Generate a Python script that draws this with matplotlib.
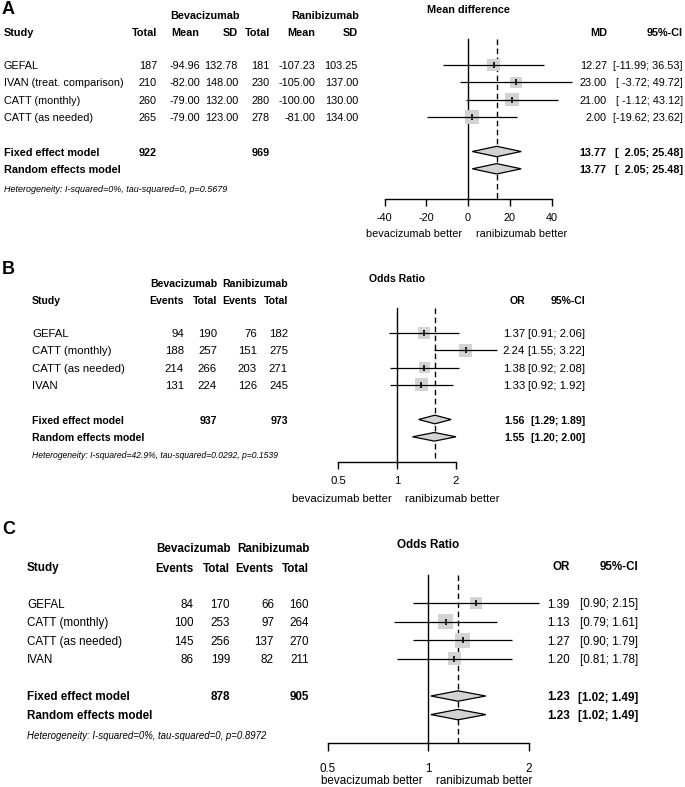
import numpy as np
import matplotlib
matplotlib.use("Agg")
import matplotlib.pyplot as plt
from matplotlib import transforms
from matplotlib.patches import Polygon
from matplotlib.ticker import NullLocator, FixedLocator, FixedFormatter

plt.rcParams['font.family'] = ['Liberation Sans', 'DejaVu Sans']

# ---------------- DATA ----------------
# Panel A: mean difference
a_studies = ["GEFAL", "IVAN (treat. comparison)", "CATT (monthly)", "CATT (as needed)"]
a_bev_total = [187, 210, 260, 265]
a_bev_mean = [-94.96, -82.00, -79.00, -79.00]
a_bev_sd = [132.78, 148.00, 132.00, 123.00]
a_ran_total = [181, 230, 280, 278]
a_ran_mean = [-107.23, -105.00, -100.00, -81.00]
a_ran_sd = [103.25, 137.00, 130.00, 134.00]
a_est = [12.27, 23.00, 21.00, 2.00]
a_lo = [-11.99, -3.72, -1.12, -19.62]
a_hi = [36.53, 49.72, 43.12, 23.62]
a_fixed = [13.77, 2.05, 25.48]
a_random = [13.77, 2.05, 25.48]
a_totals = [922, 969]
a_het = "Heterogeneity: I-squared=0%, tau-squared=0, p=0.5679"
a_ticks = [-40, -20, 0, 20, 40]
a_ticklabels = ["-40", "-20", "0", "20", "40"]

# Panel B: odds ratio
b_studies = ["GEFAL", "CATT (monthly)", "CATT (as needed)", "IVAN"]
b_bev_events = [94, 188, 214, 131]
b_bev_total = [190, 257, 266, 224]
b_ran_events = [76, 151, 203, 126]
b_ran_total = [182, 275, 271, 245]
b_est = [1.37, 2.24, 1.38, 1.33]
b_lo = [0.91, 1.55, 0.92, 0.92]
b_hi = [2.06, 3.22, 2.08, 1.92]
b_fixed = [1.56, 1.29, 1.89]
b_random = [1.55, 1.20, 2.00]
b_totals = [937, 973]
b_het = "Heterogeneity: I-squared=42.9%, tau-squared=0.0292, p=0.1539"
b_ticks = [0.5, 1, 2]
b_ticklabels = ["0.5", "1", "2"]

# Panel C: odds ratio
c_studies = ["GEFAL", "CATT (monthly)", "CATT (as needed)", "IVAN"]
c_bev_events = [84, 100, 145, 86]
c_bev_total = [170, 253, 256, 199]
c_ran_events = [66, 97, 137, 82]
c_ran_total = [160, 264, 270, 211]
c_est = [1.39, 1.13, 1.27, 1.20]
c_lo = [0.90, 0.79, 0.90, 0.81]
c_hi = [2.15, 1.61, 1.79, 1.78]
c_fixed = [1.23, 1.02, 1.49]
c_random = [1.23, 1.02, 1.49]
c_totals = [878, 905]
c_het = "Heterogeneity: I-squared=0%, tau-squared=0, p=0.8972"
c_ticks = [0.5, 1, 2]
c_ticklabels = ["0.5", "1", "2"]

left_label = "bevacizumab better"
right_label = "ranibizumab better"

# ---------------- FIGURE ----------------
W, H = 685, 787
fig = plt.figure(figsize=(W / 100, H / 100), dpi=100)
fig.patch.set_facecolor("white")

PXT = transforms.Affine2D().scale(1.0 / W, -1.0 / H).translate(0, 1) + fig.transFigure
PXX = transforms.Affine2D().scale(1.0 / W, 1.0) + fig.transFigure

SQ = "#d3d3d3"
DIA = "#d3d3d3"


def ci_formatter(lo, hi):
    wl = max(len(f"{v:.2f}") for v in lo)
    wh = max(len(f"{v:.2f}") for v in hi)
    return lambda l, u: "[" + f"{l:.2f}".rjust(wl) + "; " + f"{u:.2f}".rjust(wh) + "]"


def forest(cfg, est, lo, hi, fixed, random, ticks, ticklabels):
    log = cfg["log"]
    L, R, T, B = cfg["box"]
    null_px, sx = cfg["null_px"], cfg["sx"]
    row0, dy = cfg["row0"], cfg["dy"]
    ax = fig.add_axes([L / W, 1 - B / H, (R - L) / W, (B - T) / H])
    if log:
        ax.set_xscale("log", base=2)
        ax.set_xlim(2 ** ((L - null_px) / sx), 2 ** ((R - null_px) / sx))
        null = 1.0
    else:
        ax.set_xlim((L - null_px) / sx, (R - null_px) / sx)
        null = 0.0
    ax.set_ylim((B - row0) / dy, (T - row0) / dy)
    ax.patch.set_visible(False)
    ktop = (cfg["top_px"] - row0) / dy
    kbase = (cfg["base_px"] - row0) / dy
    n = len(est)
    rows = np.arange(n)
    kf, kr = n + 1, n + 2

    # null line & dashed pooled line
    ax.plot([null, null], [ktop, kbase], color="black", lw=1.0, zorder=1)
    ax.plot([fixed[0], fixed[0]], [ktop, kbase], color="black", lw=1.0,
            ls=(0, (4, 2.5)), zorder=1)

    # squares sized by inverse CI width
    if log:
        widths = np.log(np.array(hi)) - np.log(np.array(lo))
    else:
        widths = np.array(hi) - np.array(lo)
    side_px = cfg["smax"] * widths.min() / widths
    side_pt = side_px * 0.72
    ax.scatter(est, rows, marker="s", s=side_pt ** 2, color=SQ, lw=0, zorder=2)
    ax.hlines(rows, lo, hi, color="black", lw=0.9, zorder=3)
    ax.scatter(est, rows, marker="|", s=4.0 ** 2, color="black", lw=1.2, zorder=4)

    # diamonds
    h = cfg["dh"]
    for k, (e, l, u) in zip([kf, kr], [fixed, random]):
        poly = Polygon([(l, k), (e, k - h), (u, k), (e, k + h)], closed=True,
                       facecolor=DIA, edgecolor="black", lw=0.9, zorder=3)
        ax.add_patch(poly)

    # axis
    for s in ["top", "left", "right"]:
        ax.spines[s].set_visible(False)
    ax.spines["bottom"].set_position(("data", kbase))
    ax.spines["bottom"].set_bounds(ticks[0], ticks[-1])
    ax.spines["bottom"].set_linewidth(1.0)
    ax.xaxis.set_major_locator(FixedLocator(ticks))
    ax.xaxis.set_major_formatter(FixedFormatter(ticklabels))
    ax.xaxis.set_minor_locator(NullLocator())
    ax.tick_params(axis="x", direction="out", length=cfg["ticklen"], width=1.0,
                   pad=cfg["tickpad"], labelsize=cfg["fs"])
    ax.set_yticks([])

    # labels under the axis
    kl = (cfg["lab_px"] - row0) / dy
    ax.annotate(left_label, xy=(null, kl), xytext=(-cfg["labgap"], 0),
                textcoords="offset points", ha="right", va="center_baseline",
                fontsize=cfg["fs"])
    ax.annotate(right_label, xy=(null, kl), xytext=(cfg["labgap"] + 1.5, 0),
                textcoords="offset points", ha="left", va="center_baseline",
                fontsize=cfg["fs"])
    # title
    kt = (cfg["title_px"] - row0) / dy
    ax.text(null, kt, cfg["title"], ha="center", va="center_baseline",
            fontsize=cfg["bfs"], fontweight="bold")
    return ax, kf, kr


def rowtext(ax, cfg, x_px, k, s, ha="right", bold=False, italic=False, fs=None):
    tr = transforms.blended_transform_factory(PXX, ax.transData)
    if fs is None:
        fs = cfg["bfs"] if bold else cfg["fs"]
    ax.text(x_px, k, s, transform=tr, ha=ha, va="center_baseline",
            fontsize=fs, fontweight="bold" if bold else "normal",
            fontstyle="italic" if italic else "normal", clip_on=False)


def kpx(cfg, py):
    return (py - cfg["row0"]) / cfg["dy"]


# ---------------- PANEL A ----------------
cfgA = dict(log=False, box=(340, 600, 2, 240), null_px=468, sx=2.0875,
            row0=65, dy=17.3, top_px=39, base_px=199, smax=14, dh=0.3,
            ticklen=5, tickpad=4.9, fs=7.8, bfs=7.8, lab_px=233, labgap=4,
            title_px=9, title="Mean difference")
axA, kf, kr = forest(cfgA, a_est, a_lo, a_hi, a_fixed, a_random, a_ticks, a_ticklabels)
fciA = ci_formatter(a_lo, a_hi)
hk = kpx(cfgA, 32)
gk = kpx(cfgA, 15)
rowtext(axA, cfgA, 205, gk, "Bevacizumab", ha="center", bold=True)
rowtext(axA, cfgA, 325, gk, "Ranibizumab", ha="center", bold=True)
rowtext(axA, cfgA, 4, hk, "Study", ha="left", bold=True)
for x, s in zip([157, 199, 238, 270, 315, 358, 607, 683],
                ["Total", "Mean", "SD", "Total", "Mean", "SD", "MD", "95%-CI"]):
    rowtext(axA, cfgA, x, hk, s, bold=True)
for i in range(len(a_studies)):
    rowtext(axA, cfgA, 4, i, a_studies[i], ha="left")
    rowtext(axA, cfgA, 157, i, f"{a_bev_total[i]}")
    rowtext(axA, cfgA, 200, i, f"{a_bev_mean[i]:.2f}")
    rowtext(axA, cfgA, 238, i, f"{a_bev_sd[i]:.2f}")
    rowtext(axA, cfgA, 270, i, f"{a_ran_total[i]}")
    rowtext(axA, cfgA, 315, i, f"{a_ran_mean[i]:.2f}")
    rowtext(axA, cfgA, 358, i, f"{a_ran_sd[i]:.2f}")
    rowtext(axA, cfgA, 607, i, f"{a_est[i]:.2f}")
    rowtext(axA, cfgA, 683, i, fciA(a_lo[i], a_hi[i]))
rowtext(axA, cfgA, 4, kf, "Fixed effect model", ha="left", bold=True)
rowtext(axA, cfgA, 157, kf, f"{a_totals[0]}", bold=True)
rowtext(axA, cfgA, 270, kf, f"{a_totals[1]}", bold=True)
rowtext(axA, cfgA, 607, kf, f"{a_fixed[0]:.2f}", bold=True)
rowtext(axA, cfgA, 683, kf, fciA(a_fixed[1], a_fixed[2]), bold=True)
rowtext(axA, cfgA, 4, kr, "Random effects model", ha="left", bold=True)
rowtext(axA, cfgA, 607, kr, f"{a_random[0]:.2f}", bold=True)
rowtext(axA, cfgA, 683, kr, fciA(a_random[1], a_random[2]), bold=True)
rowtext(axA, cfgA, 4, kpx(cfgA, 189), a_het, ha="left", italic=True, fs=6.5)


# ---------------- PANELS B, C ----------------
def or_panel(cfg, studies, be, bt, re_, rt, est, lo, hi, fixed, random, totals,
             het, ticks, ticklabels, cols):
    ax, kf, kr = forest(cfg, est, lo, hi, fixed, random, ticks, ticklabels)
    fci = ci_formatter(lo, hi)
    xs, xe1, xt1, xe2, xt2, xor, xci = cols
    hk = kpx(cfg, cfg["head_px"])
    gk = kpx(cfg, cfg["group_px"])
    rowtext(ax, cfg, cfg["group_x"][0], gk, "Bevacizumab", ha="center", bold=True)
    rowtext(ax, cfg, cfg["group_x"][1], gk, "Ranibizumab", ha="center", bold=True)
    rowtext(ax, cfg, xs, hk, "Study", ha="left", bold=True)
    for x, s in zip([xe1, xt1, xe2, xt2], ["Events", "Total", "Events", "Total"]):
        rowtext(ax, cfg, x, hk, s, bold=True)
    hk2 = kpx(cfg, cfg["head2_px"])
    rowtext(ax, cfg, xor, hk2, "OR", bold=True)
    rowtext(ax, cfg, xci, hk2, "95%-CI", bold=True)
    for i in range(len(studies)):
        rowtext(ax, cfg, xs, i, studies[i], ha="left")
        rowtext(ax, cfg, xe1, i, f"{be[i]}")
        rowtext(ax, cfg, xt1, i, f"{bt[i]}")
        rowtext(ax, cfg, xe2, i, f"{re_[i]}")
        rowtext(ax, cfg, xt2, i, f"{rt[i]}")
        rowtext(ax, cfg, xor, i, f"{est[i]:.2f}")
        rowtext(ax, cfg, xci, i, fci(lo[i], hi[i]))
    rowtext(ax, cfg, xs, kf, "Fixed effect model", ha="left", bold=True)
    rowtext(ax, cfg, xt1, kf, f"{totals[0]}", bold=True)
    rowtext(ax, cfg, xt2, kf, f"{totals[1]}", bold=True)
    rowtext(ax, cfg, xor, kf, f"{fixed[0]:.2f}", bold=True)
    rowtext(ax, cfg, xci, kf, fci(fixed[1], fixed[2]), bold=True)
    rowtext(ax, cfg, xs, kr, "Random effects model", ha="left", bold=True)
    rowtext(ax, cfg, xor, kr, f"{random[0]:.2f}", bold=True)
    rowtext(ax, cfg, xci, kr, fci(random[1], random[2]), bold=True)
    rowtext(ax, cfg, xs, kpx(cfg, cfg["het_px"]), het, ha="left", italic=True,
            fs=cfg["hetfs"])
    return ax


cfgB = dict(log=True, box=(300, 520, 270, 510), null_px=397, sx=59,
            row0=333, dy=17.3, top_px=308, base_px=462, smax=13, dh=0.25,
            ticklen=5, tickpad=5, fs=8.2, bfs=7.6, lab_px=498, labgap=4,
            title_px=278, title="Odds Ratio", head_px=300, group_px=283,
            group_x=(183.5, 255.5), head2_px=300, het_px=454, hetfs=6.2)
or_panel(cfgB, b_studies, b_bev_events, b_bev_total, b_ran_events, b_ran_total,
         b_est, b_lo, b_hi, b_fixed, b_random, b_totals, b_het, b_ticks,
         b_ticklabels, (32, 184, 217, 257, 288, 525, 585))

cfgC = dict(log=True, box=(300, 560, 535, 787), null_px=428, sx=100.5,
            row0=603, dy=18.6, top_px=575, base_px=743, smax=15, dh=0.28,
            ticklen=6, tickpad=8.3, fs=8.4, bfs=8.4, lab_px=780, labgap=4,
            title_px=543, title="Odds Ratio", head_px=567, group_px=548,
            group_x=(193.5, 273), head2_px=565, het_px=735, hetfs=6.9)
or_panel(cfgC, c_studies, c_bev_events, c_bev_total, c_ran_events, c_ran_total,
         c_est, c_lo, c_hi, c_fixed, c_random, c_totals, c_het, c_ticks,
         c_ticklabels, (27, 194, 230, 274, 309, 570, 638))

# panel letters
for s, x, y in [("A", 2, 9), ("B", 2, 269), ("C", 2, 529)]:
    fig.text(x, y, s, transform=PXT, ha="left", va="center", fontsize=13,
             fontweight="bold")

fig.savefig("out.png", dpi=100, facecolor="white")
